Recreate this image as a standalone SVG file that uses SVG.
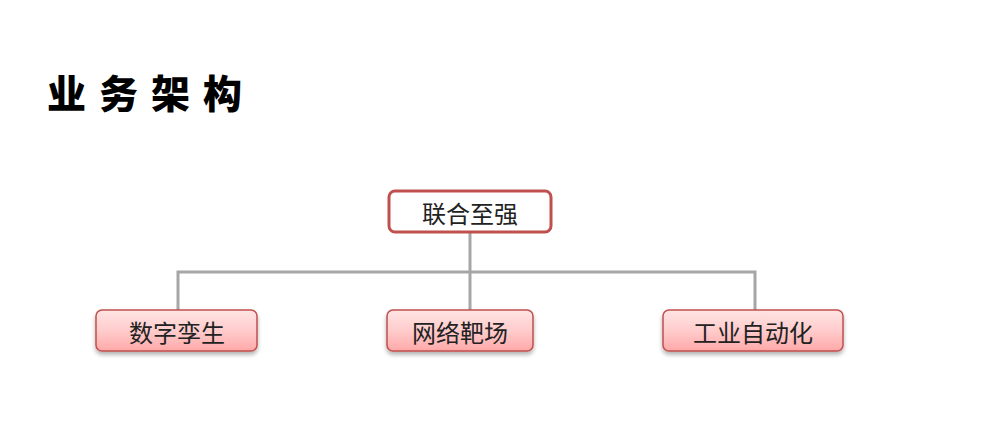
<svg xmlns="http://www.w3.org/2000/svg" width="985" height="436" viewBox="0 0 985 436">
<style>
.title{font-family:"Noto Sans CJK SC","Noto Sans CJK JP",sans-serif;font-weight:900;font-size:39px;fill:#000;letter-spacing:13px}
.lbl{font-family:"Noto Sans CJK SC","Noto Sans CJK JP",sans-serif;font-size:24px;fill:#222;text-anchor:middle;dominant-baseline:central}
.conn{stroke:#a6a6a6;stroke-width:3;fill:none}
.child{fill:url(#g);stroke:#c0504d;stroke-width:1.5;filter:url(#sh)}
</style>
<defs>
<linearGradient id="g" x1="0" y1="0" x2="0" y2="1">
<stop offset="0" stop-color="#ffe4e4"/>
<stop offset="0.5" stop-color="#ffcccc"/>
<stop offset="1" stop-color="#ffa8a8"/>
</linearGradient>
<filter id="sh" x="-10%" y="-20%" width="120%" height="160%">
<feDropShadow dx="0" dy="3" stdDeviation="2" flood-color="#000" flood-opacity="0.3"/>
</filter>
</defs>
<rect width="985" height="436" fill="#fff"/>
<text class="title" x="47" y="108">业务架构</text>
<g id="connectors">
<path class="conn" d="M470 232 V272 M178 310 V272 H755 V310 M470 272 V310"/>
</g>
<g id="n0">
<rect x="389" y="191" width="162" height="41" rx="6" fill="#fff" stroke="#c0504d" stroke-width="3"/>
<text class="lbl" x="470" y="212">联合至强</text>
</g>
<g id="n1">
<rect class="child" x="96" y="310" width="161" height="41" rx="6"/>
<text class="lbl" x="177" y="331">数字孪生</text>
</g>
<g id="n2">
<rect class="child" x="387" y="310" width="146" height="41" rx="6"/>
<text class="lbl" x="460" y="331">网络靶场</text>
</g>
<g id="n3">
<rect class="child" x="663" y="310" width="180" height="41" rx="6"/>
<text class="lbl" x="753" y="331">工业自动化</text>
</g>
</svg>
